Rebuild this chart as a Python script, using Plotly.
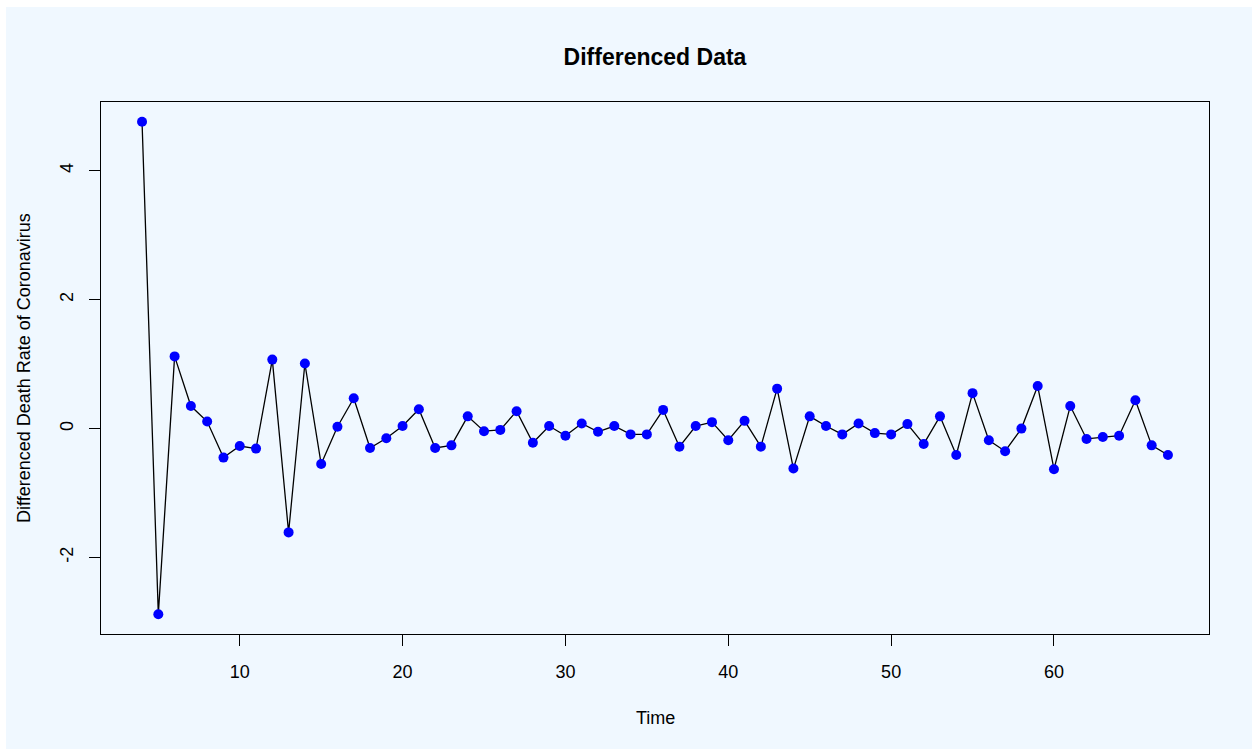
import plotly.graph_objects as go

time = list(range(4, 68))
diff_values = [
    4.76, -2.88, 1.12, 0.35, 0.11, -0.45, -0.27, -0.31, 1.07, -1.61,
    1.01, -0.55, 0.03, 0.47, -0.30, -0.15, 0.04, 0.30, -0.30, -0.26,
    0.19, -0.04, -0.02, 0.27, -0.22, 0.04, -0.11, 0.08, -0.05, 0.04,
    -0.09, -0.09, 0.29, -0.28, 0.04, 0.10, -0.18, 0.12, -0.28, 0.62,
    -0.62, 0.19, 0.04, -0.09, 0.08, -0.07, -0.09, 0.07, -0.24, 0.19,
    -0.41, 0.55, -0.18, -0.35, 0.00, 0.66, -0.63, 0.35, -0.16, -0.13,
    -0.11, 0.44, -0.26, -0.41,
]
x_ticks = [10, 20, 30, 40, 50, 60]
y_ticks = [-2, 0, 2, 4]

title_text = "Differenced Data"
x_label = "Time"
y_label = "Differenced Death Rate of Coronavirus"

BG = "#f0f8ff"
FONT = "Liberation Sans, Arial, Helvetica, sans-serif"

fig = go.Figure()
fig.add_trace(go.Scatter(
    x=time, y=diff_values, mode="lines+markers",
    line=dict(color="black", width=1.3),
    marker=dict(color="blue", size=10, line=dict(width=0)),
    showlegend=False,
))

W, H = 1252, 749
L, R, T, B = 101, 43, 102, 115
pw, ph = W - L - R, H - T - B

fig.update_layout(
    width=W, height=H,
    margin=dict(l=L, r=R, t=T, b=B, pad=0),
    paper_bgcolor="white",
    plot_bgcolor=BG,
    font=dict(family=FONT, size=18, color="black"),
    title=dict(text="<b>" + title_text + "</b>", x=0.5, xref="paper",
               y=1 - 57 / H, yref="container", xanchor="center", yanchor="middle",
               font=dict(size=23, family=FONT, color="black")),
    shapes=[dict(type="rect", xref="paper", yref="paper", layer="below",
                 x0=(6 - L) / pw, x1=(W - L) / pw + 0.02,
                 y0=-(B + 10) / ph, y1=(H - B - 7) / ph,
                 fillcolor=BG, line=dict(width=0))],
    annotations=[
        dict(text=x_label, xref="paper", yref="paper", x=0.5,
             y=-(718 - (H - B)) / ph, xanchor="center", yanchor="middle",
             showarrow=False, font=dict(size=18, family=FONT, color="black")),
        dict(text=y_label, xref="paper", yref="paper", x=-(L - 24) / pw,
             y=0.5, xanchor="center", yanchor="middle", textangle=-90,
             showarrow=False, font=dict(size=18, family=FONT, color="black")),
    ],
)
fig.update_xaxes(
    range=[1.48, 69.52], tickvals=x_ticks, ticktext=[str(v) for v in x_ticks],
    showgrid=False, zeroline=False, showline=True, linecolor="black",
    linewidth=1, mirror=True, ticks="outside", ticklen=11, tickcolor="black",
    tickwidth=1, tickfont=dict(size=18, family=FONT, color="black"),
    ticklabelstandoff=10,
)
fig.update_yaxes(
    range=[-3.186, 5.066], tickvals=y_ticks, ticktext=[str(v) for v in y_ticks],
    showgrid=False, zeroline=False, showline=True, linecolor="black",
    linewidth=1, mirror=True, ticks="outside", ticklen=11, tickcolor="black",
    tickwidth=1, tickangle=-90, tickfont=dict(size=18, family=FONT, color="black"),
    ticklabelstandoff=9,
)

fig.write_html("out.html")
